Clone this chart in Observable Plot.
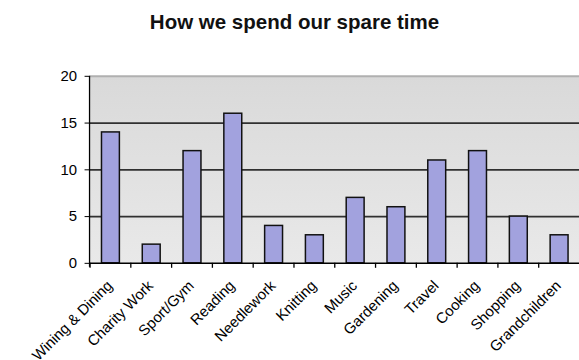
<!DOCTYPE html>
<html><head><meta charset="utf-8">
<script src="https://cdn.jsdelivr.net/npm/d3@7"></script>
<script src="https://cdn.jsdelivr.net/npm/@observablehq/plot@0.6"></script>
<style>
html,body{margin:0;padding:0;background:#fff;overflow:hidden;width:579px;height:360px}
#title{height:40px;box-sizing:border-box;padding-top:10px;padding-left:10px;line-height:20px;text-align:center;width:579px;font:bold 20.5px "Liberation Sans",Arial,sans-serif;color:#111}
#chart svg{display:block}
</style></head><body>
<div id="title">How we spend our spare time</div>
<div id="chart"></div>
<script>
const categories = ["Wining & Dining","Charity Work","Sport/Gym","Reading","Needlework","Knitting","Music","Gardening","Travel","Cooking","Shopping","Grandchildren"];
const hours = [14,2,12,16,4,3,7,6,11,12,5,3];
const yTicks = [0,5,10,15,20];
const data = categories.map((c,i)=>({activity:c, value:hours[i]}));

const gradient = () => {
  const defs = d3.create("svg:defs");
  const g = defs.append("linearGradient").attr("id","bg").attr("x1",0).attr("y1",0).attr("x2",0).attr("y2",1);
  g.append("stop").attr("offset","0%").attr("stop-color","#d9d9d9");
  g.append("stop").attr("offset","100%").attr("stop-color","#e9e9e9");
  return defs.node();
};

const boundaryTicks = (index, scales, values, dims) => {
  const x = scales.x;
  const n = categories.length;
  const step = typeof x.step === "function" ? x.step() : (dims.width - dims.marginLeft - dims.marginRight) / n;
  const bw = typeof x.bandwidth === "function" ? x.bandwidth() : 0;
  const y0 = scales.y(0);
  const g = d3.create("svg:g").attr("stroke","#000").attr("stroke-width",1.3);
  categories.forEach(c => {
    const bx = x(c) + bw/2 - step/2;
    g.append("line").attr("x1",bx).attr("x2",bx).attr("y1",y0).attr("y2",y0+5);
  });
  g.append("line").attr("x1",dims.marginLeft).attr("x2",dims.marginLeft).attr("y1",dims.marginTop).attr("y2",y0+4);
  return g.node();
};

const chart = Plot.plot({
  width: 582, height: 320,
  marginLeft: 90, marginRight: 0, marginTop: 36, marginBottom: 96,
  style: {fontFamily: '"Liberation Sans", Arial, sans-serif', color: "#000", background: "transparent", overflow: "visible"},
  x: {domain: categories, paddingInner: 0.57, paddingOuter: 0.285, label: null},
  y: {domain: [0, 20], label: null},
  marks: [
    gradient,
    Plot.frame({fill: "url(#bg)", stroke: null}),
    Plot.ruleY(yTicks.filter(v => v > 0 && v < 20), {stroke: "#303030", strokeWidth: 1.7}),
    Plot.ruleY([20], {stroke: "#b0b0b0", strokeWidth: 2}),
    Plot.barY(data, {x: "activity", y: "value", fill: "#a2a2de", stroke: "#111", strokeWidth: 1.5}),
    Plot.ruleY([0], {stroke: "#000", strokeWidth: 1.5}),
    boundaryTicks,
    Plot.axisY({ticks: yTicks, tickSize: 5, tickPadding: 8, fontSize: 15, label: null}),
    Plot.axisX({tickSize: 0, tickRotate: -45, tickPadding: 20, dx: -1, fontSize: 15, label: null})
  ]
});
document.getElementById("chart").appendChild(chart);
</script>
</body></html>
